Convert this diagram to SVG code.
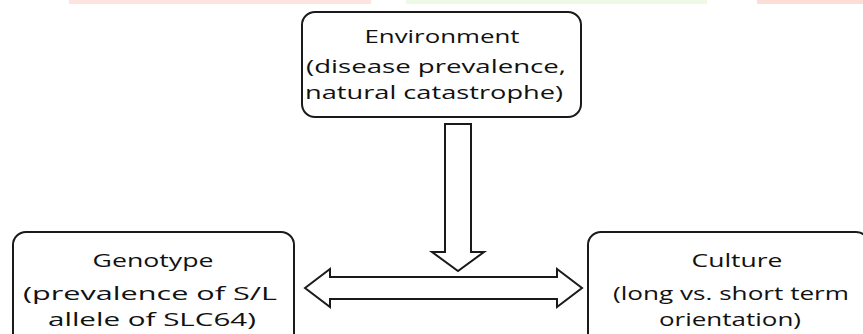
<svg xmlns="http://www.w3.org/2000/svg" width="863" height="334" viewBox="0 0 863 334">
<style>
.box{fill:#fff;stroke:#1a1a1a;stroke-width:2}
.arrow{fill:#fff;stroke:#1a1a1a;stroke-width:2;stroke-linejoin:miter}
text{font-family:"Open Sans","Noto Sans",sans-serif;font-size:19px;fill:#111;text-anchor:middle}
</style>
<rect width="863" height="334" fill="#fff"/>
<g id="top-bars">
<rect x="69" y="0" width="302" height="4" fill="#fde4e1"/>
<rect x="406" y="0" width="301" height="4" fill="#effae6"/>
<rect x="757" y="0" width="106" height="4" fill="#fdded6"/>
</g>
<g id="environment">
<rect class="box" x="302" y="12" width="279" height="105" rx="13"/>
<text x="442" y="43" textLength="155" lengthAdjust="spacingAndGlyphs">Environment</text>
<text x="436" y="73" textLength="260" lengthAdjust="spacingAndGlyphs">(disease prevalence,</text>
<text x="434" y="99" textLength="258" lengthAdjust="spacingAndGlyphs">natural catastrophe)</text>
</g>
<g id="genotype">
<rect class="box" x="13" y="232" width="281" height="125" rx="13"/>
<text x="153" y="267" textLength="121" lengthAdjust="spacingAndGlyphs">Genotype</text>
<text x="150" y="300" textLength="254" lengthAdjust="spacingAndGlyphs">(prevalence of S/L</text>
<text x="152" y="326" textLength="208" lengthAdjust="spacingAndGlyphs">allele of SLC64)</text>
</g>
<g id="culture">
<rect class="box" x="588" y="232" width="281" height="125" rx="13"/>
<text x="737" y="267" textLength="91" lengthAdjust="spacingAndGlyphs">Culture</text>
<text x="731" y="300" textLength="236" lengthAdjust="spacingAndGlyphs">(long vs. short term</text>
<text x="730" y="326" textLength="142" lengthAdjust="spacingAndGlyphs">orientation)</text>
</g>
<g id="connectors">
<path class="arrow" d="M445 124 H471 V252 H484 L458 271 L432 252 H445 Z"/>
<path class="arrow" d="M305 288 L330 269 V277 H557 V269 L582 288 L557 307 V299 H330 V307 Z"/>
</g>
</svg>
